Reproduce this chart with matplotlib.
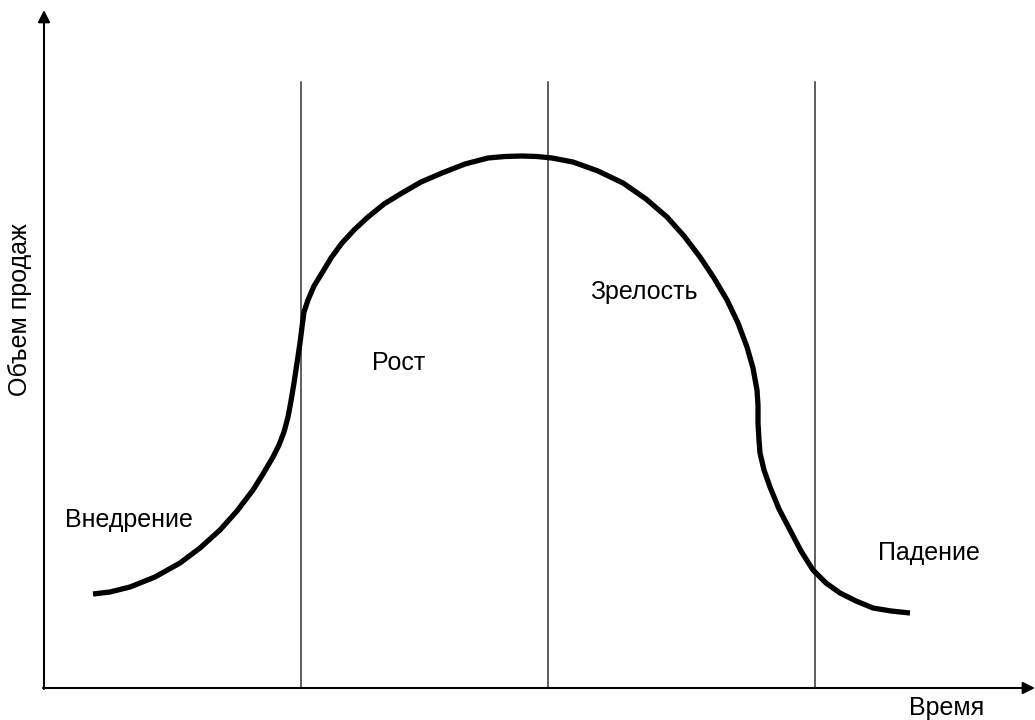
import matplotlib.pyplot as plt

plt.rcParams['font.family'] = ['Liberation Sans', 'DejaVu Sans']

# curve points (pixel coordinates, y down)
curve_x = [93, 110, 130, 155, 180, 200, 220, 237, 253, 263, 273, 279, 284, 288,
           291, 294, 297, 300, 302,
           304, 308, 314, 322, 331, 342, 354, 368, 384, 402, 421, 442, 465, 488,
           505, 522, 537, 552, 573, 598, 623, 646, 667, 684, 700, 714, 727, 738,
           747, 753, 757, 758, 758,
           759, 760, 764, 770, 779, 790, 801, 813, 826, 840, 856, 873, 891, 910]
curve_y = [594, 592, 587, 577, 563, 548, 530, 511, 490, 474, 457, 445, 432, 417,
           401, 383, 363, 343, 327,
           312, 300, 286, 273, 258, 243, 230, 217, 204, 193, 182, 173, 164, 158,
           156.5, 156, 156.5, 158, 162, 171, 183, 199, 217, 236, 257, 278, 300, 323,
           347, 368, 390, 405, 423,
           440, 453, 470, 487, 509, 530, 551, 570, 583, 593, 601, 608, 611, 613]

stage_lines = [301, 548, 815]
stage_names = ['Внедрение', 'Рост', 'Зрелость', 'Падение']
stage_pos = [(65, 520), (372, 363), (590, 292), (878, 553)]

fig = plt.figure(figsize=(10.35, 7.2), dpi=100)
ax = fig.add_axes([0, 0, 1, 1])
ax.set_xlim(0, 1035)
ax.set_ylim(720, 0)
ax.axis('off')

# axes with arrows
ax.annotate('', xy=(44, 10), xytext=(44, 689),
            arrowprops=dict(arrowstyle='-|>', color='black', lw=1.5,
                            mutation_scale=18, shrinkA=0, shrinkB=0))
ax.annotate('', xy=(1035, 688), xytext=(43, 688),
            arrowprops=dict(arrowstyle='-|>', color='black', lw=1.5,
                            mutation_scale=18, shrinkA=0, shrinkB=0))

for x in stage_lines:
    ax.plot([x, x], [82, 688], color='#333333', lw=1.1)

ax.plot(curve_x, curve_y, color='black', lw=3.8, solid_capstyle='butt',
        solid_joinstyle='round')

for name, (x, y) in zip(stage_names, stage_pos):
    ax.text(x, y, name, fontsize=18, ha='left', va='center')

ax.text(20, 310, 'Объем продаж', fontsize=18, rotation=90,
        ha='center', va='center')
ax.text(947, 708, 'Время', fontsize=18, ha='center', va='center')

fig.savefig('out.png', dpi=100)
